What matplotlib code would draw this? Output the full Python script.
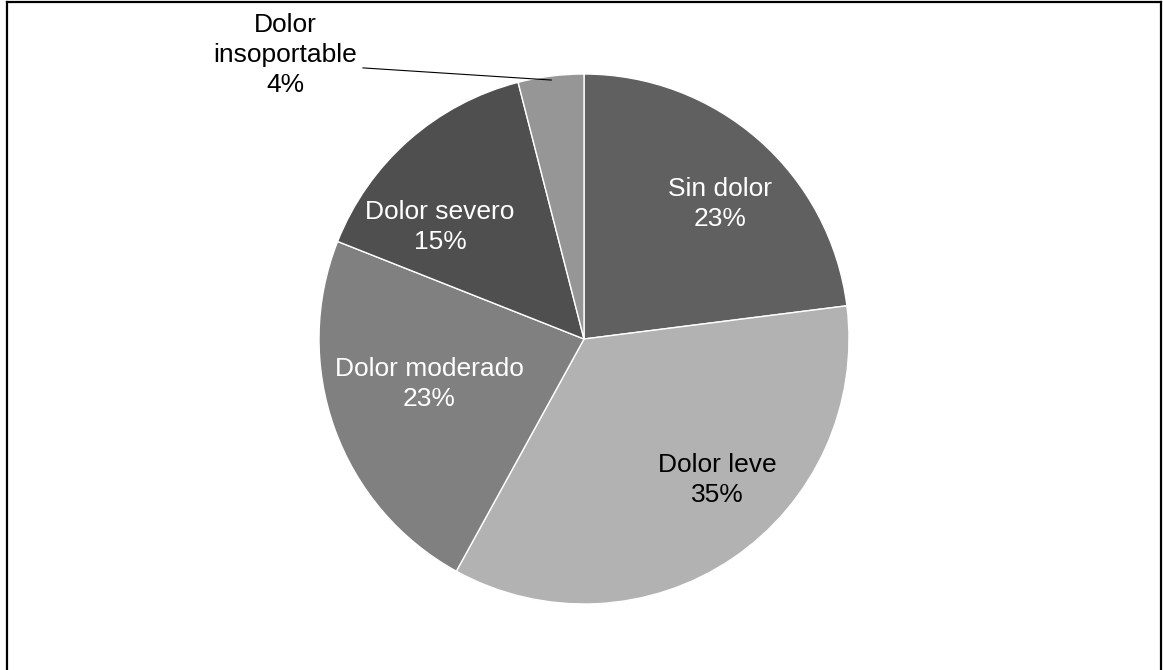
import numpy as np
import matplotlib.pyplot as plt
from matplotlib.lines import Line2D

plt.rcParams['font.family'] = ['Liberation Sans', 'DejaVu Sans']

# Data
categories = ['Sin dolor', 'Dolor leve', 'Dolor moderado', 'Dolor severo', 'Dolor\ninsoportable']
percent = [23, 35, 23, 15, 4]
colors = ['#606060', '#b2b2b2', '#808080', '#4f4f4f', '#969696']
text_colors = ['white', 'black', 'white', 'white', 'black']

# label centres in pie units (radius = 1)
label_pos = [(0.513, 0.509), (0.502, -0.532), (-0.585, -0.170), (-0.543, 0.423), (-1.128, 1.072)]

W, H = 1163, 670
fig = plt.figure(figsize=(W / 100, H / 100), dpi=100)
fig.patch.set_facecolor('white')

# square axes holding the pie, centre (584, 339) px, radius 265 px
cx, cy, r = 584, 339, 265
ax = fig.add_axes([(cx - r) / W, (H - cy - r) / H, 2 * r / W, 2 * r / H])
wedges, _ = ax.pie(percent, colors=colors, startangle=90, counterclock=False,
                   radius=1.0, wedgeprops=dict(edgecolor='white', linewidth=1.0))
ax.set_xlim(-1, 1)
ax.set_ylim(-1, 1)
ax.set_aspect('equal')
ax.axis('off')

for cat, p, (lx, ly), tc in zip(categories, percent, label_pos, text_colors):
    ax.text(lx, ly, f'{cat}\n{p}%', ha='center', va='center', fontsize=19,
            color=tc, linespacing=1.3, clip_on=False)

# leader line for the small slice
w = wedges[-1]
mid = np.deg2rad((w.theta1 + w.theta2) / 2)
ax.plot([-0.834, 0.985 * np.cos(mid)], [1.023, 0.985 * np.sin(mid)],
        color='black', lw=0.8, clip_on=False)

# chart frame
lw = 1.6
fx0, fx1, fy1 = 7 / W, 1161 / W, 1 - 1.5 / H
for xs, ys in [([fx0, fx0], [0, fy1]), ([fx1, fx1], [0, fy1]), ([fx0, fx1], [fy1, fy1])]:
    fig.add_artist(Line2D(xs, ys, transform=fig.transFigure, color='black', lw=lw))

fig.savefig('out.png', dpi=100)
